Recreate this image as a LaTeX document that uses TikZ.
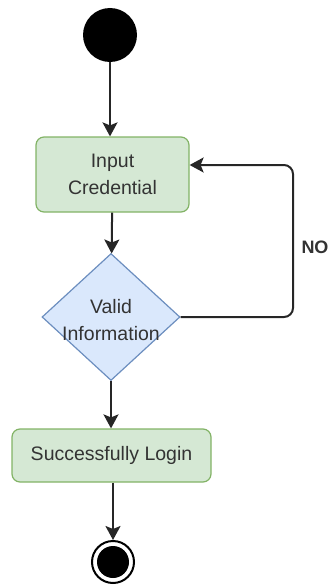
\documentclass[tikz,border=0pt]{standalone}
\usepackage{fontspec}
\setmainfont{Liberation Sans}
\usetikzlibrary{shapes.geometric,arrows.meta}
\definecolor{actfill}{HTML}{D5E8D4}
\definecolor{actline}{HTML}{82B366}
\definecolor{decfill}{HTML}{DAE8FC}
\definecolor{decline}{HTML}{6C8EBF}
\definecolor{txt}{HTML}{333333}
\begin{document}
\begin{tikzpicture}[x=1pt,y=-1pt,
  lbl/.style={font=\fontsize{19.5}{27}\selectfont, text=txt, align=center},
  activity/.style={lbl, draw=actline, fill=actfill, line width=1.2pt,
    rounded corners=8pt, inner sep=0pt},
  decision/.style={diamond, draw=decline, fill=decfill, line width=1.2pt,
    inner sep=0pt},
  flow/.style={draw=black!85, line width=2pt,
    -{Stealth[length=14pt,width=15pt,inset=3pt]}},
  startnode/.style={circle, fill=black, inner sep=0pt, minimum size=54pt},
  endouter/.style={circle, draw=black, line width=2pt, fill=white, inner sep=0pt,
    minimum size=42pt},
  endinner/.style={circle, fill=black, inner sep=0pt, minimum size=32pt}]
\useasboundingbox (0,0) rectangle (334,586);

% nodes
\node[startnode] (start) at (110,35) {};
\node[activity, minimum width=153pt, minimum height=75pt] (input) at (112.5,174.5)
  {Input\\Credential};
\node[decision, minimum width=138pt, minimum height=127pt] (valid) at (111,317) {};
\node[lbl, inner sep=0pt] (validtext) at (111,320) {Valid\\Information};
\node[activity, minimum width=199pt, minimum height=53pt] (login) at (111.5,455.5)
  {Successfully Login};
\node[endouter] (stop) at (113,562) {};
\node[endinner] (stopdot) at (stop) {};
\coordinate (loopturn) at (293,317);
\node[font=\bfseries\fontsize{18}{20}\selectfont, text=txt] (no) at (315,247) {NO};

% connectors
\draw[flow] (start) -- (start |- input.north);
\draw[flow] (input) -- (valid);
\draw[flow] (valid) -- (valid |- login.north);
\draw[flow] (login.south -| stop) -- (stop);
\draw[flow, rounded corners=9pt] (valid.east) -- (loopturn) |- (input.east |- 0,165);
\end{tikzpicture}
\end{document}
